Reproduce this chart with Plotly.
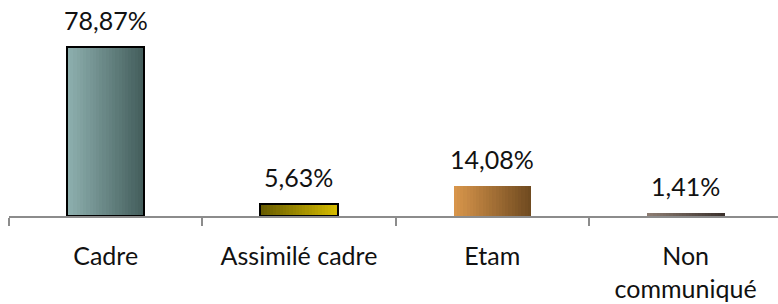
import plotly.graph_objects as go

categories = ["Cadre", "Assimilé cadre", "Etam", "Non communiqué"]
tick_labels = ["Cadre", "Assimilé cadre", "Etam", "Non<br>communiqué"]
values = [78.87, 5.63, 14.08, 1.41]
value_labels = ["78,87%", "5,63%", "14,08%", "1,41%"]
left_colors = [(0x8F, 0xB1, 0xB0), (0x66, 0x5A, 0x00), (0xDA, 0x97, 0x4C), (0x8E, 0x7E, 0x74)]
right_colors = [(0x42, 0x5C, 0x5A), (0xD6, 0xBC, 0x00), (0x6E, 0x49, 0x1F), (0x3A, 0x30, 0x2B)]
outline_colors = ["black", "black", "rgba(0,0,0,0)", "rgba(0,0,0,0)"]

FONT = "Lato, 'Open Sans', sans-serif"
BW = 0.40
N = 24

fig = go.Figure()
for k in range(N):
    t = (k + 0.5) / N
    cols = []
    for lc, rc in zip(left_colors, right_colors):
        c = [round(a + (b - a) * t) for a, b in zip(lc, rc)]
        cols.append(f"rgb({c[0]},{c[1]},{c[2]})")
    fig.add_trace(go.Bar(
        x=categories, y=values,
        width=BW / N * 1.15,
        offset=-BW / 2 + k * BW / N,
        marker=dict(color=cols, line=dict(width=0)),
        hoverinfo="skip", showlegend=False,
    ))

fig.add_trace(go.Bar(
    x=categories, y=values, width=BW, offset=-BW / 2,
    marker=dict(color="rgba(0,0,0,0)", line=dict(color=outline_colors, width=2)),
    showlegend=False,
))

for c, v, lab in zip(categories, values, value_labels):
    fig.add_annotation(x=c, y=v, text=lab, showarrow=False, yanchor="bottom",
                       yshift=10, font=dict(family=FONT, size=25, color="#111111"))

fig.update_layout(
    width=778, height=304,
    margin=dict(l=9, r=0, t=0, b=88, autoexpand=False),
    paper_bgcolor="white", plot_bgcolor="white",
    barmode="overlay",
    bargap=0,
    font=dict(family=FONT, size=25, color="#111111"),
    xaxis=dict(
        type="category",
        tickvals=categories, ticktext=tick_labels,
        tickson="boundaries",
        ticks="outside", ticklen=8, tickwidth=2, tickcolor="#8c8c8c",
        showline=True, linecolor="#8c8c8c", linewidth=2,
        showgrid=False, zeroline=False,
        range=[-0.5, 3.478],
        ticklabelstandoff=17,
        automargin=False,
    ),
    yaxis=dict(range=[0, 100.8], visible=False, showgrid=False, zeroline=False,
               automargin=False),
)

fig.write_html("out.html", config={"displayModeBar": False},
               post_script="document.body.style.margin='0';document.body.style.overflow='hidden';")
